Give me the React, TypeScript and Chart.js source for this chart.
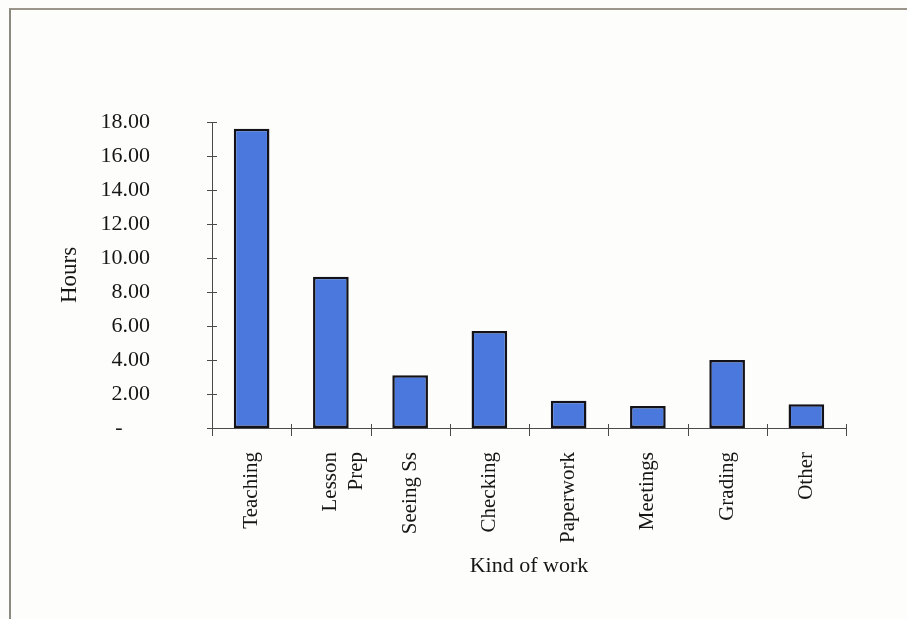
import React, { useEffect, useRef } from "react";
import { Chart, registerables } from "chart.js";

Chart.register(...registerables);

// Weekly hours spent on each kind of work
const categories: (string | string[])[] = [
  "Teaching",
  ["Lesson", "Prep"],
  "Seeing Ss",
  "Checking",
  "Paperwork",
  "Meetings",
  "Grading",
  "Other",
];
const hours: number[] = [17.6, 8.9, 3.1, 5.7, 1.6, 1.3, 4.0, 1.4];

const yMin = 0;
const yMax = 18;
const yStep = 2;
const xTitle = "Kind of work";
const yTitle = "Hours";

const SERIF = "'Liberation Serif', 'Times New Roman', serif";
const INK = "#161616";
const AXIS = "#4a4a4a";

// Short tick marks that cross each axis line
const crossTicks = {
  id: "crossTicks",
  afterDatasetsDraw(chart: any) {
    const { ctx, scales } = chart;
    const x = scales.x;
    const y = scales.y;
    ctx.save();
    ctx.strokeStyle = AXIS;
    ctx.lineWidth = 1;
    ctx.beginPath();
    const axisX = chart.chartArea.left;
    y.ticks.forEach((t: any) => {
      const py = Math.round(y.getPixelForValue(t.value)) + 0.5;
      ctx.moveTo(axisX - 5, py);
      ctx.lineTo(axisX + 5, py);
    });
    const axisY = chart.chartArea.bottom;
    for (let i = 0; i <= categories.length; i++) {
      const px = Math.round(x.getPixelForValue(i - 0.5)) + 0.5;
      ctx.moveTo(px, axisY - 4);
      ctx.lineTo(px, axisY + 8);
    }
    ctx.stroke();
    ctx.restore();
  },
};

export default function App() {
  const canvasRef = useRef<HTMLCanvasElement | null>(null);

  useEffect(() => {
    const canvas = canvasRef.current;
    if (!canvas) return;
    const chart = new Chart(canvas, {
      type: "bar",
      data: {
        labels: categories,
        datasets: [
          {
            label: yTitle,
            data: hours,
            backgroundColor: "#4a78dc",
            borderColor: "#121218",
            borderWidth: 2.5,
            borderSkipped: false,
            barPercentage: 0.45,
            categoryPercentage: 1,
          },
        ],
      },
      plugins: [crossTicks],
      options: {
        responsive: false,
        animation: false,
        devicePixelRatio: 1,
        layout: { padding: { left: 0, right: 61, top: 122, bottom: 0 } },
        plugins: {
          legend: { display: false },
          tooltip: { enabled: false },
          title: { display: false },
        },
        scales: {
          x: {
            type: "category",
            offset: true,
            grid: { display: false, drawTicks: false },
            border: { display: true, color: AXIS, width: 1 },
            ticks: {
              color: INK,
              font: { family: SERIF, size: 21 },
              minRotation: 90,
              maxRotation: 90,
              autoSkip: false,
              padding: 24,
            },
            title: {
              display: true,
              text: xTitle,
              color: INK,
              font: { family: SERIF, size: 22 },
              padding: { top: 0, bottom: 40 },
            },
            afterFit(scale: any) {
              scale.height = 191;
            },
          },
          y: {
            type: "linear",
            min: yMin,
            max: yMax,
            grid: { display: false, drawTicks: false },
            border: { display: true, color: AXIS, width: 1 },
            ticks: {
              stepSize: yStep,
              color: INK,
              font: { family: SERIF, size: 22 },
              padding: 62,
              callback: (v: any) => (Number(v) === 0 ? "-     " : Number(v).toFixed(2)),
            },
            title: {
              display: true,
              text: yTitle,
              color: INK,
              font: { family: SERIF, size: 23 },
              padding: { top: 56, bottom: 0 },
            },
            afterFit(scale: any) {
              scale.width = 212;
            },
          },
        },
      },
    });
    return () => chart.destroy();
  }, []);

  return (
    <div
      style={{
        position: "fixed",
        left: 0,
        top: 0,
        width: 907,
        height: 619,
        background: "#fdfdfc",
        overflow: "hidden",
      }}
    >
      <div
        style={{
          position: "absolute",
          left: 9,
          top: 8,
          right: -4,
          bottom: -4,
          borderTop: "2px solid #9a968c",
          borderLeft: "2px solid #8c8a80",
        }}
      />
      <canvas
        ref={canvasRef}
        width={907}
        height={619}
        style={{ position: "absolute", left: 0, top: 0, display: "block" }}
      />
    </div>
  );
}
